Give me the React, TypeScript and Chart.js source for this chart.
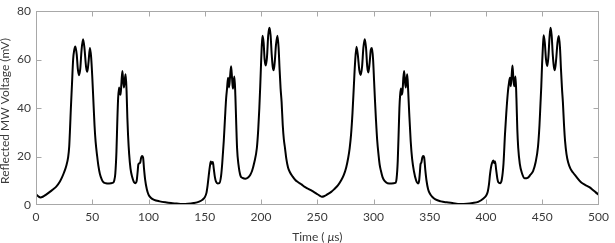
import React, { useEffect, useRef } from "react";
import { Chart, registerables } from "chart.js";

Chart.register(...registerables);

// Time (µs)
const timeUs: number[] = [
  0, 2, 4, 6, 9, 12, 15, 18, 21, 23, 25, 27, 28.5, 29.5, 30.3, 31, 32, 33, 34, 35,
  36.2, 37.2, 38.2, 39.3, 40.5, 41.8, 43, 44.5, 45.6, 46.7, 47.9, 49, 50, 51, 52, 53,
  54.4, 55.5, 56.8, 58.5, 60, 62, 65, 68, 69.5, 70.5, 71.5, 72.3, 73, 73.8, 74.5, 75.2,
  76, 76.8, 77.5, 78.2, 79, 79.7, 80.5, 81.2, 81.8, 82.8, 84, 85.5, 87, 88.5, 89.5,
  90.3, 91, 91.8, 92.6, 93.5, 94.4, 95.2, 96, 97, 98.5, 100, 102, 105, 110, 115, 120,
  125, 130, 135, 140, 145, 148, 150, 151.5, 152.5, 153.5, 154.6, 155.4, 156.2, 157.2,
  158, 159, 160, 161.5, 163, 164.5, 165.5, 166.9, 168, 169, 169.8, 170.7, 171.6, 172.5,
  173.4, 174.3, 175, 175.7, 176.4, 177.2, 178, 178.7, 180, 181.7, 183.5, 186.1, 188.5,
  190.5, 192, 194, 196.3, 197.5, 198.5, 199.3, 200, 200.6, 201.3, 202.3, 203.2, 204.2,
  205.3, 206.4, 207.5, 208.5, 209.5, 210.4, 211.3, 212.2, 213.3, 214.6, 215.6, 216.5,
  217.4, 218.3, 219.3, 220.3, 221.3, 222.5, 224, 225.7, 228, 230.5, 233, 236, 238.5,
  241.8, 245, 249.2, 252, 254.2, 256,
  258, 260, 262.4, 265, 268.3, 271, 273.5, 275.7, 277.5, 278.8, 280, 281.3, 282.5,
  283.5, 284.8, 286, 287.4, 288.6, 289.8, 291, 292.2, 293.3, 294.4, 295.4, 296.5, 297.6,
  298.6, 299.6, 300.5, 301.3, 302.1, 303.2, 304.5, 305.5, 306.5, 308, 310, 312.4, 316,
  319.4, 320.5, 321.5, 322.4, 323, 323.6, 324.3, 325, 325.8, 326.5, 327.2, 328, 328.7,
  329.4, 330, 330.8, 331.7, 333, 334.3, 336, 337.8, 339.5, 340.5, 341.2, 341.8, 342.5,
  343.3, 344.2, 345, 346, 347.1, 348.5, 350.3, 352.1, 355, 360, 365, 370, 377, 383, 388,
  393, 397.7, 400, 401.5, 402.6, 403.5, 404.4, 405.3, 406.5, 407.2, 408, 409, 410, 410.9,
  412.5, 414, 415.5, 416.8, 418, 419.5, 420.3, 421.2, 422, 422.7, 423.5, 424.3, 425,
  425.6, 426.2, 427, 427.8, 428.6, 430, 432, 434.4, 437, 439.5, 441.8, 444, 446.2, 447.5,
  448.4, 449.1, 449.8, 450.5, 451.2, 452.2, 453.3, 454.4, 455.4, 456.4, 457.3, 458.3,
  459.3, 460.3, 461.2, 462.3, 463.5, 464.7, 465.7, 466.6, 467.5, 468.3, 469.3, 470.3,
  471.5, 473, 475, 477.1, 480, 484.4, 488, 491.8, 495, 497.5, 500,
];

// Reflected MW voltage (mV)
const voltageMv: number[] = [
  4.4, 3.6, 3.1, 3.4, 4.3, 5.3, 6.4, 7.6, 9.5, 11.3, 13.5, 16.3, 19.5, 24, 32, 40, 50, 60, 64, 65.4,
  62, 56, 53.5, 56, 64, 68.3, 65, 57, 54.9, 59, 64.7, 61, 53, 43, 33, 26,
  20, 16, 12.8, 10.5, 9.4, 9, 8.9, 9.1, 10, 13, 22, 35, 44, 48.5, 46, 45.5,
  51, 55.3, 51, 48.5, 52, 53.9, 47, 36, 29, 21, 15, 11.5, 9.5, 9, 10,
  13.5, 16.8, 17.2, 17.5, 19.6, 20.2, 19.5, 15, 10.5, 6.5, 4.3, 3, 2.1, 1.5, 1.1, 0.8,
  0.6, 0.4, 0.5, 0.8, 1.4, 2.2, 3.2, 5, 8, 12, 16.1, 17.9, 17, 17.7,
  15, 11.5, 9.6, 8.9, 9, 12, 17, 26.5, 36, 44, 48, 52.5, 48.5, 53,
  57.2, 52, 48, 51, 53, 45, 33, 23.5, 16.5, 12.1, 11.2, 10.8, 11.3,
  12.5, 14, 17.5, 23.5, 31, 40, 49, 58, 65, 69.8, 67, 60, 57.5,
  61, 70, 73.1, 70, 62, 57, 55.6, 59, 66, 69.8, 65, 56,
  48, 42.4, 33, 27, 23.5, 19, 15.5, 13.5, 11.8, 10.3, 9.4, 8.5, 7.6,
  6.7, 5.9, 4.7, 3.9, 3.4, 3.6,
  4.1, 4.7, 5.4, 6.5, 8.1, 10, 12.3, 15.5, 19.5, 23.5, 28.9, 38, 49,
  58, 65.3, 62, 55.5, 53.6, 57, 65, 68.4, 65, 57, 54.6, 58.5, 64,
  64.7, 60, 51, 43, 35.7, 27, 20.5, 16.5, 14.2, 11.5, 9.8, 9, 8.9,
  9.1, 11, 18, 31, 40, 45.1, 48, 45.5, 47, 52.5, 55.3, 50.5, 48.5,
  52, 53.9, 47, 38, 26.5, 19, 13.7, 10.2, 8.9, 10, 13.5, 16.9, 17.5,
  19.5, 20.2, 19.6, 14.5, 10, 6.5, 4.5, 3.4, 2.3, 1.5, 1.1, 0.8, 0.4, 0.5, 0.8,
  1.3, 2.7, 3.8, 5.5, 8.5, 12.5, 15.5, 17.3, 18.4, 17.3, 17.9, 14.5, 11, 9.4,
  9, 10.5, 17, 28.9, 38, 47, 50, 52.5, 49, 53, 57.5, 52, 49,
  51, 53, 44, 31, 23.5, 17, 13, 11, 11.2, 12.5, 14, 17.5, 24.2, 33,
  42, 49, 58, 65, 70, 67, 60, 57.3, 61, 69, 73.1, 70,
  62, 57, 55.6, 60, 67, 69.7, 65, 56, 48, 42.4, 33, 26,
  21, 17.5, 15, 13.5, 11.8, 9.4, 8.3, 7.4, 6.2, 5.2, 4.3,
];

const xTickValues: number[] = [0, 50, 100, 150, 200, 250, 300, 350, 400, 450, 500];
const yTickValues: number[] = [0, 20, 40, 60, 80];
const xTitleParts: string[] = ["Time ( ", "\u03bc", "s)"];
const yTitle = "Reflected MW Voltage (mV)";

const FONT_FAMILY = "Lato, 'Liberation Sans', sans-serif";
const TEXT_COLOR = "#3a3a3a";
const FRAME_COLOR = "#a8a8a8";

const framePlugin = {
  id: "matlabFrame",
  afterDraw(chart: any) {
    const { ctx, chartArea: a, scales } = chart;
    ctx.save();
    ctx.strokeStyle = FRAME_COLOR;
    ctx.lineWidth = 1;
    const L = Math.round(a.left) + 0.5;
    const R = Math.round(a.right) - 0.5;
    const T = Math.round(a.top) + 0.5;
    const B = Math.round(a.bottom) - 0.5;
    ctx.strokeRect(L, T, R - L, B - T);
    const tl = 5;
    ctx.beginPath();
    for (const t of scales.x.ticks) {
      const px = Math.round(scales.x.getPixelForValue(t.value)) + 0.5;
      if (px <= L + 1 || px >= R - 1) continue;
      ctx.moveTo(px, B);
      ctx.lineTo(px, B - tl);
      ctx.moveTo(px, T);
      ctx.lineTo(px, T + tl);
    }
    for (const t of scales.y.ticks) {
      const py = Math.round(scales.y.getPixelForValue(t.value)) + 0.5;
      if (py <= T + 1 || py >= B - 1) continue;
      ctx.moveTo(L, py);
      ctx.lineTo(L + tl, py);
      ctx.moveTo(R, py);
      ctx.lineTo(R - tl, py);
    }
    ctx.stroke();

    // axis titles
    ctx.fillStyle = TEXT_COLOR;
    ctx.textBaseline = "alphabetic";
    const normal = `12px ${FONT_FAMILY}`;
    const italic = `italic 12px ${FONT_FAMILY}`;
    const fonts = [normal, italic, normal];
    let total = 0;
    const widths = xTitleParts.map((p, i) => {
      ctx.font = fonts[i];
      const w = ctx.measureText(p).width;
      total += w;
      return w;
    });
    let x = (a.left + a.right) / 2 - total / 2;
    ctx.textAlign = "left";
    xTitleParts.forEach((p, i) => {
      ctx.font = fonts[i];
      ctx.fillText(p, x, 240.5);
      x += widths[i];
    });

    ctx.save();
    ctx.translate(9, (a.top + a.bottom) / 2 + 3);
    ctx.rotate(-Math.PI / 2);
    ctx.font = normal;
    ctx.textAlign = "center";
    ctx.fillText(yTitle, 0, 0);
    ctx.restore();
    ctx.restore();
  },
};

export default function App() {
  const canvasRef = useRef<HTMLCanvasElement | null>(null);

  useEffect(() => {
    if (!canvasRef.current) return;
    const points = timeUs.map((t, i) => ({ x: t, y: voltageMv[i] }));
    const chart = new Chart(canvasRef.current, {
      type: "line",
      data: {
        datasets: [
          {
            data: points,
            borderColor: "#000000",
            borderWidth: 2,
            pointRadius: 0,
            fill: false,
            cubicInterpolationMode: "monotone",
          },
        ],
      },
      options: {
        responsive: false,
        animation: false,
        devicePixelRatio: 1,
        layout: { padding: { top: 6, right: 12, left: 0, bottom: 0 } },
        plugins: {
          legend: { display: false },
          tooltip: { enabled: false },
          title: { display: false },
        },
        scales: {
          x: {
            type: "linear",
            min: 0,
            max: 500,
            afterBuildTicks: (scale: any) => {
              scale.ticks = xTickValues.map((v) => ({ value: v }));
            },
            afterFit: (scale: any) => {
              scale.height = 38;
            },
            grid: { display: false, drawTicks: false },
            border: { display: false },
            ticks: {
              padding: 6,
              color: TEXT_COLOR,
              maxRotation: 0,
              autoSkip: false,
              font: { family: FONT_FAMILY, size: 12, lineHeight: 1 },
            },
          },
          y: {
            type: "linear",
            min: 0,
            max: 80,
            afterBuildTicks: (scale: any) => {
              scale.ticks = yTickValues.map((v) => ({ value: v }));
            },
            afterFit: (scale: any) => {
              scale.width = 36;
            },
            grid: { display: false, drawTicks: false },
            border: { display: false },
            ticks: {
              padding: 5,
              color: TEXT_COLOR,
              font: { family: FONT_FAMILY, size: 12, lineHeight: 1 },
            },
          },
        },
      },
      plugins: [framePlugin],
    });
    return () => chart.destroy();
  }, []);

  return (
    <div style={{ position: "fixed", left: 0, top: 0, width: 615, height: 243, background: "#fff" }}>
      <canvas ref={canvasRef} width={615} height={243} />
    </div>
  );
}
